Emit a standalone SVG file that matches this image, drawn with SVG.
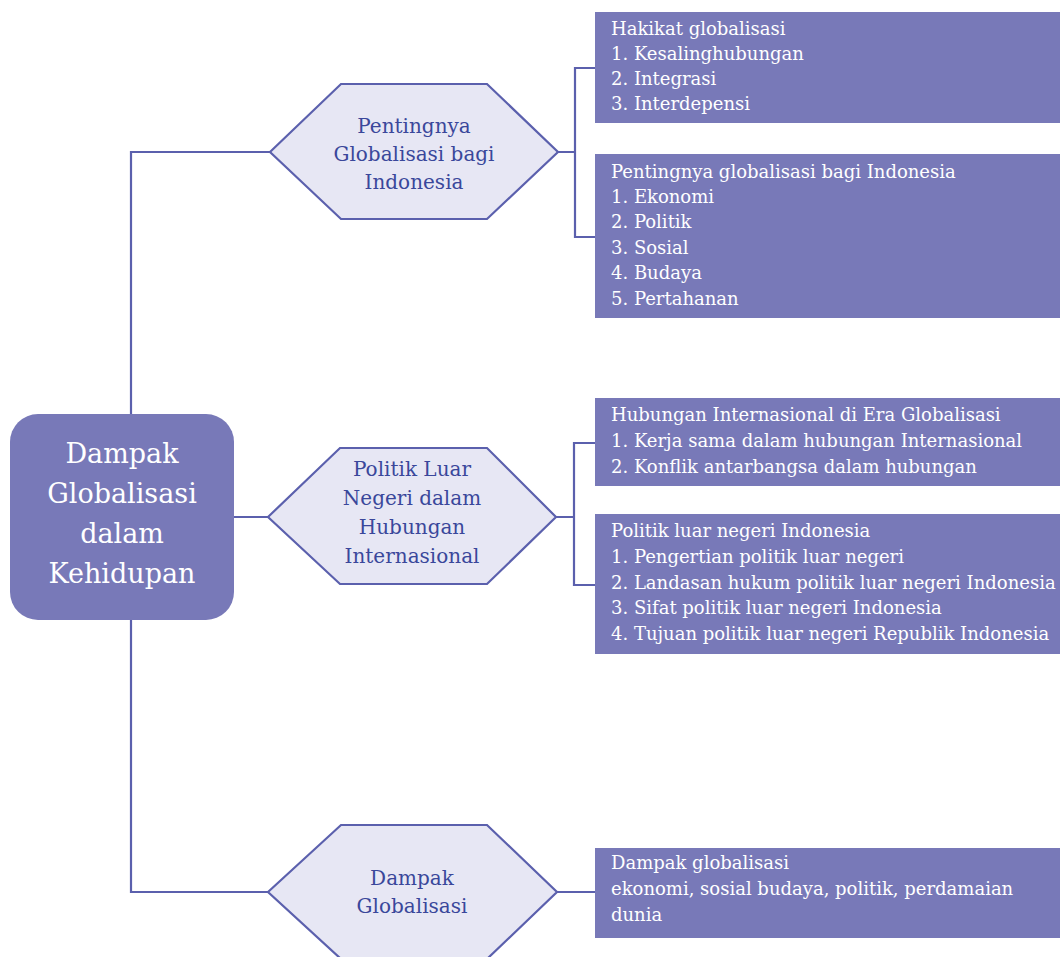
<svg xmlns="http://www.w3.org/2000/svg" width="1060" height="957" viewBox="0 0 1060 957">
<style>
.ln{fill:none;stroke:#5b60ad;stroke-width:2.2}
.hex{fill:#e7e7f4;stroke:#5b60ad;stroke-width:2.2}
.box{fill:#7879b8}
.bt{font-family:"DejaVu Serif","Liberation Serif",serif;font-size:18px;fill:#ffffff}
.ht{font-family:"DejaVu Serif","Liberation Serif",serif;font-size:20px;fill:#3a479b;text-anchor:middle}
.mt{font-family:"DejaVu Serif","Liberation Serif",serif;font-size:27px;fill:#ffffff;text-anchor:middle}
</style>
<rect width="1060" height="957" fill="#ffffff"/>
<g id="connectors">
<path class="ln" d="M131,414 V152 H270"/>
<path class="ln" d="M131,620 V892 H268"/>
<path class="ln" d="M234,517 H268"/>
<path class="ln" d="M558,152 H575 M595,68 H575 V237 H595"/>
<path class="ln" d="M556,517 H574 M595,443 H574 V585 H595"/>
<path class="ln" d="M557,892 H595"/>
</g>
<g id="main">
<rect x="10" y="414" width="224" height="206" rx="28" class="box"/>
<text class="mt" x="122" y="463">Dampak</text>
<text class="mt" x="122" y="503">Globalisasi</text>
<text class="mt" x="122" y="543">dalam</text>
<text class="mt" x="122" y="583">Kehidupan</text>
</g>
<g id="hex1">
<polygon class="hex" points="270,152 341,84 487,84 558,152 487,219 341,219"/>
<text class="ht" x="414" y="133">Pentingnya</text>
<text class="ht" x="414" y="161">Globalisasi bagi</text>
<text class="ht" x="414" y="189">Indonesia</text>
</g>
<g id="hex2">
<polygon class="hex" points="268,517 340,448 487,448 556,517 487,584 340,584"/>
<text class="ht" x="412" y="476">Politik Luar</text>
<text class="ht" x="412" y="505">Negeri dalam</text>
<text class="ht" x="412" y="534">Hubungan</text>
<text class="ht" x="412" y="563">Internasional</text>
</g>
<g id="hex3">
<polygon class="hex" points="268,892 341,825 487,825 557,892 487,959 341,959"/>
<text class="ht" x="412" y="885">Dampak</text>
<text class="ht" x="412" y="913">Globalisasi</text>
</g>
<g id="box1">
<rect x="595" y="12" width="465" height="111" class="box"/>
<text class="bt" x="611" y="35">Hakikat globalisasi</text>
<text class="bt" x="611" y="60">1. Kesalinghubungan</text>
<text class="bt" x="611" y="85">2. Integrasi</text>
<text class="bt" x="611" y="110">3. Interdepensi</text>
</g>
<g id="box2">
<rect x="595" y="154" width="465" height="164" class="box"/>
<text class="bt" x="611" y="178">Pentingnya globalisasi bagi Indonesia</text>
<text class="bt" x="611" y="203">1. Ekonomi</text>
<text class="bt" x="611" y="228">2. Politik</text>
<text class="bt" x="611" y="254">3. Sosial</text>
<text class="bt" x="611" y="279">4. Budaya</text>
<text class="bt" x="611" y="305">5. Pertahanan</text>
</g>
<g id="box3">
<rect x="595" y="398" width="465" height="88" class="box"/>
<text class="bt" x="611" y="421">Hubungan Internasional di Era Globalisasi</text>
<text class="bt" x="611" y="447">1. Kerja sama dalam hubungan Internasional</text>
<text class="bt" x="611" y="473">2. Konflik antarbangsa dalam hubungan</text>
</g>
<g id="box4">
<rect x="595" y="514" width="465" height="140" class="box"/>
<text class="bt" x="611" y="537">Politik luar negeri Indonesia</text>
<text class="bt" x="611" y="563">1. Pengertian politik luar negeri</text>
<text class="bt" x="611" y="589">2. Landasan hukum politik luar negeri Indonesia</text>
<text class="bt" x="611" y="614">3. Sifat politik luar negeri Indonesia</text>
<text class="bt" x="611" y="640">4. Tujuan politik luar negeri Republik Indonesia</text>
</g>
<g id="box5">
<rect x="595" y="848" width="465" height="90" class="box"/>
<text class="bt" x="611" y="869">Dampak globalisasi</text>
<text class="bt" x="611" y="895">ekonomi, sosial budaya, politik, perdamaian</text>
<text class="bt" x="611" y="921">dunia</text>
</g>
</svg>
